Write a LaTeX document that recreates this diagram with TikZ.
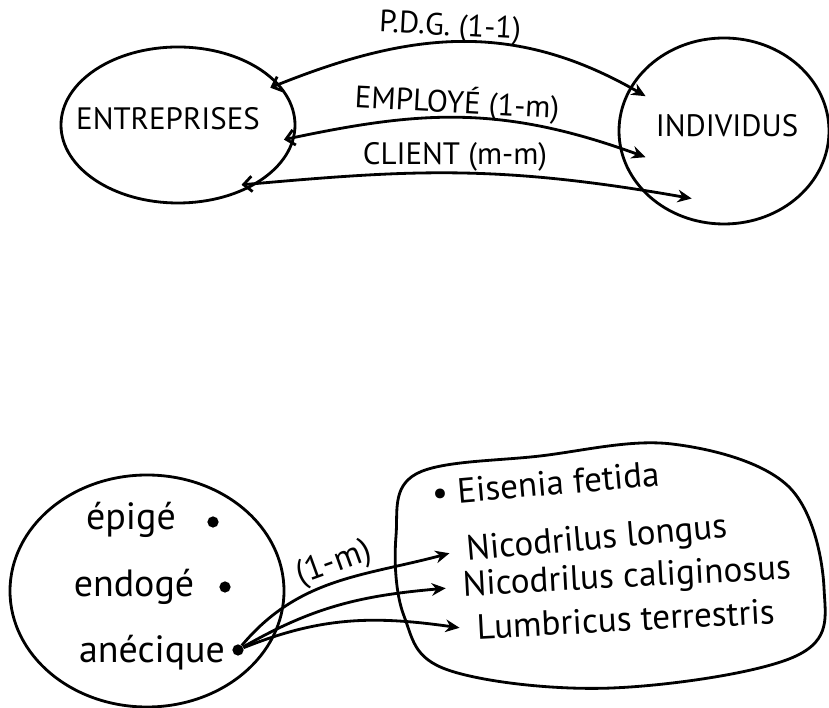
\documentclass[tikz,border=0pt]{standalone}
\usepackage{fontspec}
\setmainfont{PT Sans}
\usepackage{tikz}
\usetikzlibrary{shapes.geometric, arrows.meta, positioning}
\definecolor{ink}{RGB}{0,0,0}

\begin{document}
\begin{tikzpicture}[>=Stealth]
  \tikzstyle{set} = [ellipse, draw=ink, line width=2pt, inner sep=0pt]
  \tikzstyle{caps} = [font=\fontsize{22}{26}\selectfont, text=ink]
  \tikzstyle{kind} = [font=\fontsize{27}{31}\selectfont, text=ink, anchor=base]
  \tikzstyle{item} = [font=\fontsize{25}{29}\selectfont, text=ink, anchor=base west, inner xsep=12pt]
  \tikzstyle{dot} = [circle, fill=ink, inner sep=0pt, minimum size=8pt]
  \tikzstyle{link} = [line width=2pt, draw=ink, {Straight Barb[length=6pt,width=11pt]}-{Stealth[length=10pt,width=9pt]}]
  \tikzstyle{pick} = [line width=2pt, draw=ink, -{Stealth[length=10pt,width=9pt]}]

  \useasboundingbox (0,0) rectangle (20.725,17.7);

  % Top: the two sets
  \node [set, minimum width=5.85cm, minimum height=3.9cm] (ent) at (4.45, 14.575) {};
  \node [caps] (entname) at (4.2, 14.725) {ENTREPRISES};
  \node [set, minimum width=5.25cm, minimum height=4.65cm] (ind) at (18.1, 14.425) {};
  \node [caps] (indname) at (18.175, 14.55) {INDIVIDUS};

  % Top: relation names
  \node [caps, rotate=-3] (pdg) at (11.25, 17.0) {P.D.G. (1-1)};
  \node [caps, rotate=-3] (employe) at (11.425, 15.125) {EMPLOYÉ (1-m)};
  \node [caps] (client) at (11.375, 13.775) {CLIENT (m-m)};

  % Top: relations
  \draw [link, shorten <=-7pt, shorten >=-13pt] (ent.22) to[out=22, in=150] (ind.155);
  \draw [link, shorten <=-8pt, shorten >=-20pt] (ent.-6) to[out=12, in=160] (ind.189);
  \draw [link, shorten <=-12pt, shorten >=-37pt] (ent.-36) to[out=5, in=170] (ind.215);

  % Bottom: left set
  \node [set, minimum width=6.85cm, minimum height=5.8cm] (kinds) at (3.675, 2.925) {};
  \node [kind] (epige) at (3.275, 4.45) {épigé};
  \node [dot] (epigedot) at (5.325, 4.65) {};
  \node [kind] (endoge) at (3.35, 2.775) {endogé};
  \node [dot] (endogedot) at (5.625, 3.025) {};
  \node [kind] (anecique) at (3.8, 1.125) {anécique};
  \node [dot] (anecdot) at (5.95, 1.45) {};

  % Bottom: right set
  \draw [line width=2pt, draw=ink] plot[smooth cycle, tension=0.6] coordinates
    {(10.4,5.85) (13.5,6.3) (16.8,6.6) (19.7,5.55) (20.6,3.0) (19.9,1.3) (15.3,0.5) (11.2,0.95) (10.1,2.3) (9.9,4.3)};
  \node [item, rotate=5] (eisenia) at (10.4, 5.025) {\textbullet\ Eisenia fetida};
  \node [item, rotate=5] (longus) at (11.255, 3.65) {Nicodrilus longus};
  \node [item, rotate=3] (calig) at (11.155, 2.775) {Nicodrilus caliginosus};
  \node [item, rotate=3] (terr) at (11.505, 1.7) {Lumbricus terrestris};

  % Bottom: one-to-many
  \node [caps, font=\fontsize{24}{28}\selectfont, rotate=20] (onemany) at (8.35, 3.6) {(1-m)};
  \draw [pick] (anecdot) to[out=50, in=195] (longus.west);
  \draw [pick] (anecdot) to[out=30, in=185] (calig.west);
  \draw [pick] (anecdot) to[out=22, in=172] (terr.west);
\end{tikzpicture}
\end{document}
